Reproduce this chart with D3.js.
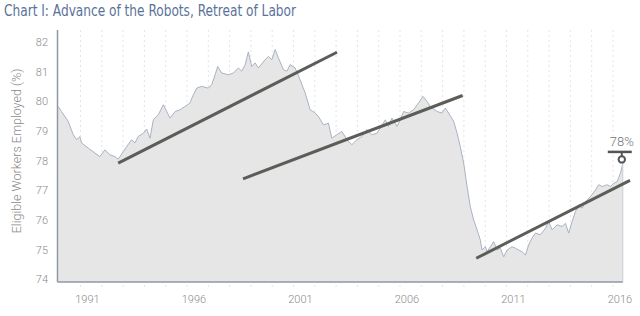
<!DOCTYPE html>
<html>
<head>
<meta charset="utf-8">
<script src="https://cdn.jsdelivr.net/npm/d3@7"></script>
<style>
  body { margin: 0; background: #fff; }
  svg { display: block; }
  .tick-label { font-family: Roboto, "Liberation Sans", sans-serif; font-weight: 300; fill: #8a8a8a; }
</style>
</head>
<body>
<div id="chart"></div>
<script>
var width = 640;
var height = 316;

// decimal year of each reading
var years = [
  1989.60, 1989.76, 1990.07, 1990.31, 1990.47, 1990.62, 1990.70, 1991.01, 1991.33, 1991.56,
  1991.80, 1992.03, 1992.27, 1992.42, 1992.66, 1992.82, 1993.05, 1993.21, 1993.36, 1993.60,
  1993.76, 1993.91, 1994.07, 1994.30, 1994.54, 1994.70, 1994.85, 1995.09, 1995.32, 1995.56,
  1995.79, 1995.95, 1996.11, 1996.34, 1996.65, 1996.81, 1996.97, 1997.09, 1997.28, 1997.59,
  1997.83, 1998.06, 1998.22, 1998.38, 1998.53, 1998.69, 1998.85, 1999.00, 1999.32, 1999.47,
  1999.63, 1999.79, 1999.94, 2000.18, 2000.34, 2000.49, 2000.73, 2000.96, 2001.20, 2001.43,
  2001.67, 2001.82, 2002.06, 2002.29, 2002.45, 2002.69, 2002.92, 2003.16, 2003.39, 2003.63,
  2003.86, 2004.10, 2004.33, 2004.57, 2004.72, 2004.96, 2005.11, 2005.27, 2005.51, 2005.66,
  2005.82, 2006.05, 2006.29, 2006.52, 2006.73, 2006.92, 2007.07, 2007.39, 2007.62, 2007.78,
  2007.93, 2008.17, 2008.33, 2008.48, 2008.64, 2008.80, 2008.95, 2009.11, 2009.27, 2009.42,
  2009.50, 2009.66, 2009.74, 2009.89, 2010.05, 2010.21, 2010.36, 2010.52, 2010.68, 2010.91,
  2011.07, 2011.22, 2011.38, 2011.54, 2011.69, 2011.85, 2012.01, 2012.24, 2012.48, 2012.63,
  2012.79, 2013.03, 2013.26, 2013.42, 2013.57, 2013.73, 2013.89, 2014.04, 2014.20, 2014.36,
  2014.59, 2014.83, 2014.98, 2015.14, 2015.38, 2015.53, 2015.69, 2015.85, 2016.00, 2016.11
];

// eligible workers employed, %
var employed = [
  79.92, 79.75, 79.42, 78.97, 78.80, 78.90, 78.69, 78.52, 78.35, 78.23,
  78.46, 78.29, 78.23, 78.14, 78.40, 78.57, 78.80, 78.69, 78.91, 79.02,
  79.16, 78.85, 79.47, 79.64, 79.98, 79.75, 79.53, 79.75, 79.81, 79.92,
  80.04, 80.32, 80.54, 80.60, 80.54, 80.66, 80.99, 81.27, 81.05, 80.99,
  81.05, 81.22, 81.11, 81.33, 81.76, 81.27, 81.39, 81.22, 81.50, 81.61,
  81.50, 81.84, 81.56, 81.16, 81.11, 81.33, 81.22, 80.82, 80.37, 79.81,
  79.70, 79.58, 79.30, 79.36, 78.85, 78.97, 79.08, 78.80, 78.63, 78.80,
  78.91, 79.14, 78.97, 79.02, 79.19, 79.47, 79.25, 79.53, 79.25, 79.47,
  79.75, 79.70, 79.81, 80.04, 80.26, 80.09, 79.92, 79.75, 79.70, 79.87,
  79.70, 79.42, 79.02, 78.57, 78.01, 77.22, 76.54, 76.09, 75.76, 75.42,
  75.08, 75.19, 75.02, 75.19, 75.36, 75.08, 75.14, 74.85, 75.08, 75.19,
  75.14, 75.08, 75.02, 74.91, 75.25, 75.48, 75.65, 75.59, 75.81, 76.04,
  75.76, 75.93, 75.87, 75.98, 75.65, 76.04, 76.38, 76.60, 76.49, 76.71,
  76.88, 77.11, 77.28, 77.22, 77.28, 77.22, 77.33, 77.39, 77.67, 78.00
];

// trend lines drawn over the series: [year, value] start and end
var trendStart = [[1992.42, 78.01], [1998.28, 77.48], [2009.23, 74.80]];
var trendEnd = [[2002.69, 81.75], [2008.59, 80.29], [2016.45, 77.43]];

var yTicks = [74, 75, 76, 77, 78, 79, 80, 81, 82];
var xTicks = [1991, 1996, 2001, 2006, 2011, 2016];
var gridYears = [1990, 1991, 1992, 1993, 1994, 1995, 1996, 1997, 1998, 1999, 2000, 2001, 2002,
  2003, 2004, 2005, 2006, 2007, 2008, 2009, 2010, 2011, 2012, 2013, 2014, 2015];

var endLabel = "78%";

var x = d3.scaleLinear().domain([1989.57, 2016.12]).range([57.5, 623]);
var y = d3.scaleLinear().domain([74, 82.5]).range([282, 30]);

var data = years.map(function (t, i) { return { t: t, v: employed[i] }; });

var svg = d3.select('#chart').append('svg')
  .attr('width', width)
  .attr('height', height);

// title
svg.append('text')
  .attr('x', 4)
  .attr('y', 16)
  .attr('textLength', 292)
  .attr('lengthAdjust', 'spacingAndGlyphs')
  .style('font-family', '"Liberation Sans Narrow", "DejaVu Sans Condensed", "Liberation Sans", sans-serif')
  .style('font-size', '16px')
  .style('fill', '#5a7299')
  .text('Chart I: Advance of the Robots, Retreat of Labor');

// faint yearly grid
svg.selectAll('.grid')
  .data(gridYears)
  .enter().append('line')
  .attr('class', 'grid')
  .attr('x1', function (d) { return x(d + 0.65); })
  .attr('x2', function (d) { return x(d + 0.65); })
  .attr('y1', 30)
  .attr('y2', 290)
  .style('stroke', '#e4e4e4')
  .style('stroke-width', 1)
  .style('stroke-dasharray', '2,3');

var area = d3.area()
  .x(function (d) { return x(d.t); })
  .y0(y(74))
  .y1(function (d) { return y(d.v); });

var line = d3.line()
  .x(function (d) { return x(d.t); })
  .y(function (d) { return y(d.v); });

svg.append('path')
  .datum(data)
  .attr('d', area)
  .style('fill', '#e4e4e4')
  .style('fill-opacity', 0.92);

svg.append('path')
  .datum(data)
  .attr('d', line)
  .style('fill', 'none')
  .style('stroke', '#9fabbd')
  .style('stroke-width', 0.9);

// right edge of the area
var last = data[data.length - 1];
svg.append('line')
  .attr('x1', x(last.t)).attr('x2', x(last.t))
  .attr('y1', y(last.v)).attr('y2', y(74))
  .style('stroke', '#c9ced6')
  .style('stroke-width', 1);

// axes frame
svg.append('line')
  .attr('x1', x.range()[0]).attr('x2', x.range()[0])
  .attr('y1', y.range()[1]).attr('y2', y.range()[0])
  .style('stroke', '#8d97a8')
  .style('stroke-width', 1.5);

svg.append('line')
  .attr('x1', x.range()[0]).attr('x2', x(last.t))
  .attr('y1', y(74)).attr('y2', y(74))
  .style('stroke', '#8d97a8')
  .style('stroke-width', 1.5);

// y tick labels
svg.selectAll('.ylab')
  .data(yTicks)
  .enter().append('text')
  .attr('class', 'tick-label')
  .attr('x', 48)
  .attr('y', function (d) { return y(d) - 2.5; })
  .attr('dy', '0.35em')
  .style('text-anchor', 'end')
  .style('font-size', '11px')
  .text(function (d) { return d; });

// x tick labels
svg.selectAll('.xlab')
  .data(xTicks)
  .enter().append('text')
  .attr('class', 'tick-label')
  .attr('x', function (d) { return x(d) - 0.5; })
  .attr('y', 299)
  .attr('dy', '0.35em')
  .style('text-anchor', 'middle')
  .style('font-size', '11px')
  .text(function (d) { return d; });

// y axis title
svg.append('text')
  .attr('class', 'tick-label')
  .attr('transform', 'translate(17,' + ((y.range()[0] + y.range()[1]) / 2 - 5) + ') rotate(-90)')
  .attr('dy', '0.35em')
  .style('text-anchor', 'middle')
  .style('font-size', '12.5px')
  .text('Eligible Workers Employed (%)');

// trend lines
svg.selectAll('.trend')
  .data(trendStart)
  .enter().append('line')
  .attr('class', 'trend')
  .attr('x1', function (d) { return x(d[0]); })
  .attr('y1', function (d) { return y(d[1]); })
  .attr('x2', function (d, i) { return x(trendEnd[i][0]); })
  .attr('y2', function (d, i) { return y(trendEnd[i][1]); })
  .style('stroke', '#5c5c58')
  .style('stroke-width', 3)
  .style('stroke-linecap', 'butt');

// end-point marker
var mx = x(last.t) - 1;
var my = y(last.v) - 4;
svg.append('line')
  .attr('x1', mx).attr('x2', mx)
  .attr('y1', my - 7).attr('y2', my - 3)
  .style('stroke', '#555')
  .style('stroke-width', 2);
svg.append('line')
  .attr('x1', mx - 14).attr('x2', mx + 10)
  .attr('y1', my - 7.5).attr('y2', my - 7.5)
  .style('stroke', '#555')
  .style('stroke-width', 2.5);
svg.append('circle')
  .attr('cx', mx).attr('cy', my)
  .attr('r', 3.2)
  .style('fill', '#fff')
  .style('stroke', '#555')
  .style('stroke-width', 2);
svg.append('text')
  .attr('x', mx)
  .attr('y', my - 13)
  .style('text-anchor', 'middle')
  .style('font-family', 'Roboto, "Liberation Sans", sans-serif')
  .style('font-weight', 300)
  .style('font-size', '13px')
  .style('fill', '#777')
  .text(endLabel);
</script>
</body>
</html>
